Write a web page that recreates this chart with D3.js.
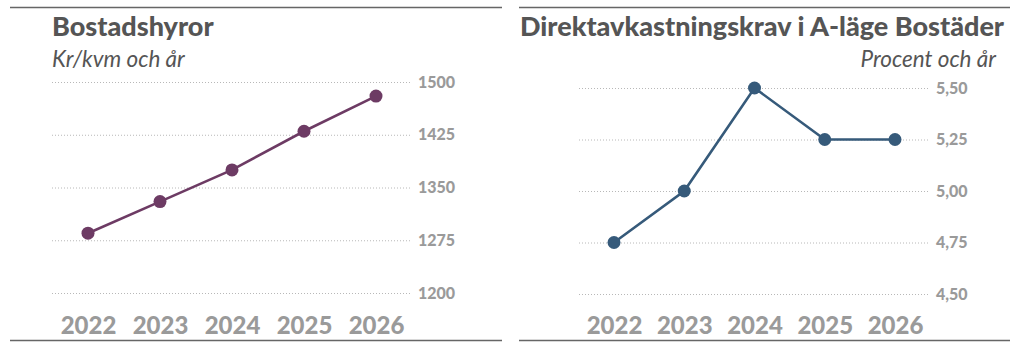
<!DOCTYPE html>
<html>
<head>
<meta charset="utf-8">
<script src="https://cdn.jsdelivr.net/npm/d3@7"></script>
<style>
  html, body { margin: 0; padding: 0; background: #fff; }
  svg { display: block; }
  .title { font-family: Lato, sans-serif; font-weight: 900; fill: #555; }
  .subtitle { font-family: Lato, sans-serif; font-style: italic; fill: #555; }
  .yaxis text { font-family: Lato, sans-serif; font-weight: 900; fill: #9a9a9a; font-size: 16px; }
  .xaxis text { font-family: Lato, sans-serif; font-weight: 900; fill: #9a9a9a; font-size: 24px; }
  .yaxis line { stroke: #b8b8b8; stroke-dasharray: 1 2; stroke-width: 1; }
</style>
</head>
<body>
<svg id="chart" width="1024" height="348"></svg>
<script>
// Years shown on both charts
const years = ["2022", "2023", "2024", "2025", "2026"];

// Rents, kr per sqm and year
const rentValues = [1285, 1330, 1375, 1430, 1480];
const rentTicks = [1200, 1275, 1350, 1425, 1500];

// Yield requirement, prime residential, percent
const yieldValues = [4.75, 5.00, 5.50, 5.25, 5.25];
const yieldTicks = [4.50, 4.75, 5.00, 5.25, 5.50];

const svg = d3.select("#chart");
const fmtComma = d3.formatLocale({ decimal: ",", thousands: " ", grouping: [3], currency: ["", " kr"] }).format(".2f");

function panel(opts) {
  const g = svg.append("g");

  // frame rules above and below
  g.append("line").attr("x1", opts.left).attr("x2", opts.right)
    .attr("y1", 7.5).attr("y2", 7.5).attr("stroke", "#666").attr("stroke-width", 1.5);
  g.append("line").attr("x1", opts.left).attr("x2", opts.right)
    .attr("y1", 340.5).attr("y2", 340.5).attr("stroke", "#666").attr("stroke-width", 1.5);

  g.append("text").attr("class", "title")
    .attr("x", opts.titleX).attr("y", 36)
    .attr("font-size", opts.titleSize)
    .text(opts.title);

  g.append("text").attr("class", "subtitle")
    .attr("x", opts.subX).attr("y", 67)
    .attr("font-size", 22.5)
    .attr("text-anchor", opts.subAnchor)
    .text(opts.subtitle);

  const x = d3.scalePoint().domain(years).range(opts.xRange);
  const y = d3.scaleLinear().domain(d3.extent(opts.ticks)).range(opts.yRange);

  const yAxis = d3.axisRight(y)
    .tickValues(opts.ticks)
    .tickSize(-(opts.gridRight - opts.gridLeft))
    .tickPadding(8)
    .tickFormat(opts.format);
  g.append("g").attr("class", "yaxis")
    .attr("transform", `translate(${opts.gridRight},0)`)
    .call(yAxis)
    .call(a => a.select(".domain").remove());

  const xAxis = d3.axisBottom(x).tickSize(0).tickPadding(0);
  g.append("g").attr("class", "xaxis")
    .attr("transform", "translate(0,317)")
    .call(xAxis)
    .call(a => a.select(".domain").remove())
    .selectAll("text").attr("dy", "0.71em");

  const line = d3.line().x((d, i) => x(years[i])).y(d => y(d));
  g.append("path").datum(opts.values)
    .attr("fill", "none").attr("stroke", opts.color)
    .attr("stroke-width", 2.6).attr("d", line);

  g.selectAll("circle.pt").data(opts.values).join("circle")
    .attr("class", "pt")
    .attr("cx", (d, i) => x(years[i]))
    .attr("cy", d => y(d))
    .attr("r", 6.5)
    .attr("fill", opts.color);
}

panel({
  left: 10, right: 502,
  title: "Bostadshyror", titleX: 52, titleSize: 27,
  subtitle: "Kr/kvm och år", subX: 52, subAnchor: "start",
  xRange: [88, 376], yRange: [293, 82],
  gridLeft: 52, gridRight: 410,
  ticks: rentTicks, values: rentValues,
  format: d3.format("d"),
  color: "#6d3b64"
});

panel({
  left: 519, right: 1010,
  title: "Direktavkastningskrav i A-läge Bostäder", titleX: 520, titleSize: 27,
  subtitle: "Procent och år", subX: 996, subAnchor: "end",
  xRange: [614, 895], yRange: [294, 88],
  gridLeft: 579, gridRight: 928,
  ticks: yieldTicks, values: yieldValues,
  format: fmtComma,
  color: "#365a7a"
});
</script>
</body>
</html>
